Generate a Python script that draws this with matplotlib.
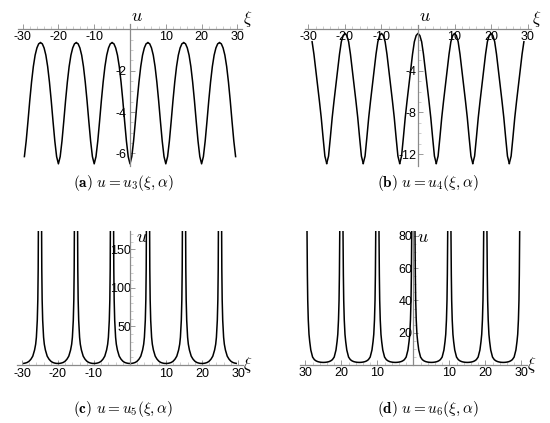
import matplotlib
matplotlib.use("Agg")
import matplotlib.pyplot as plt
import numpy as np

plt.rcParams['mathtext.fontset'] = 'cm'
plt.rcParams['font.family'] = ['Liberation Sans', 'DejaVu Sans']

# ---------------- data ----------------
# (a) u3: half period, offset from a trough (0) to a peak (5)
a_offsets = [0, 0.5, 1.0, 1.5, 2.0, 2.5, 3.0, 3.5, 4.0, 4.5, 5.0]
a_values = [-6.50, -6.15, -5.40, -4.45, -3.45, -2.55, -1.80, -1.25, -0.90, -0.70, -0.65]
a_troughs = [-30, -20, -10, 0, 10, 20, 30]
a_range = [-29.6, 29.6]

# (b) u4: half period, offset from a peak (0) to a trough (5)
b_offsets = [0, 0.5, 1.0, 1.5, 2.0, 2.5, 3.0, 3.5, 4.0, 4.5, 5.0]
b_values = [-0.4, -0.6, -1.2, -2.4, -3.9, -5.4, -6.9, -8.5, -10.4, -12.2, -12.9]
b_peaks = [-30, -20, -10, 0, 10, 20, 30]
b_range = [-29.2, 29.2]

# (c) u5: half branch, offset from a minimum (0) towards a pole (5)
c_offsets = [0, 0.5, 1.0, 1.5, 2.0, 2.5, 3.0, 3.5, 3.8, 4.0, 4.25, 4.4, 4.5, 4.55, 4.6]
c_values = [2.0, 2.1, 2.6, 3.4, 5.0, 7.6, 11.5, 19.5, 27, 36, 58, 85, 125, 175, 230]
c_minima = [-30, -20, -10, 0, 10, 20, 30]
c_range = [-29.8, 29.8]

# (d) u6: half branch, offset from a minimum (0) towards a pole (5)
d_offsets = [0, 0.5, 1.0, 1.5, 2.0, 2.5, 3.0, 3.5, 3.8, 4.0, 4.2, 4.35, 4.45, 4.55, 4.6]
d_values = [1.6, 1.65, 1.8, 2.05, 2.5, 3.3, 4.9, 9.3, 14.5, 19, 28, 40, 56, 83, 100]
d_minima = [-25, -15, -5, 5, 15, 25]
d_range = [-30, 30]

# ticks
a_xticks = [-30, -20, -10, 10, 20, 30]
a_xticklabels = ["-30", "-20", "-10", "10", "20", "30"]
a_yticks = [-2, -4, -6]
a_yticklabels = ["-2", "-4", "-6"]
b_xticks = [-30, -20, -10, 10, 20, 30]
b_xticklabels = ["-30", "-20", "-10", "10", "20", "30"]
b_yticks = [-4, -8, -12]
b_yticklabels = ["-4", "-8", "-12"]
c_xticks = [-30, -20, -10, 10, 20, 30]
c_xticklabels = ["-30", "-20", "-10", "10", "20", "30"]
c_yticks = [50, 100, 150]
c_yticklabels = ["50", "100", "150"]
d_xticks = [-30, -20, -10, 10, 20, 30]
d_xticklabels = ["30", "20", "10", "10", "20", "30"]
d_yticks = [20, 40, 60, 80]
d_yticklabels = ["20", "40", "60", "80"]

captions = [r"$\mathbf{(a)}\ u = u_3(\xi,\alpha)$", r"$\mathbf{(b)}\ u = u_4(\xi,\alpha)$",
            r"$\mathbf{(c)}\ u = u_5(\xi,\alpha)$", r"$\mathbf{(d)}\ u = u_6(\xi,\alpha)$"]


def branches(offsets, values, centers, rng):
    """mirror the read half-branch around each centre; return list of (x, y) pieces"""
    off = np.asarray(offsets, float)
    val = np.asarray(values, float)
    t = np.concatenate([-off[::-1], off[1:]])
    v = np.concatenate([val[::-1], val[1:]])
    pieces = []
    for c in centers:
        x = c + t
        m = (x >= rng[0]) & (x <= rng[1])
        if m.sum() > 1:
            pieces.append((x[m], v[m]))
    return pieces


W, H = 550, 423
fig = plt.figure(figsize=(5.5, 4.23), dpi=100)
AXC = '#8a8a8a'
TSZ = 9


def add_ax(x0, x1, y0, y1):
    return fig.add_axes([x0 / W, 1 - y1 / H, (x1 - x0) / W, (y1 - y0) / H])


def style(ax, xlim, ylim, xt, xtl, yt, ytl, xminor, yminor, xpad, ypad):
    ax.set_xlim(*xlim)
    ax.set_ylim(*ylim)
    ax.patch.set_alpha(0)
    for s in ['top', 'right']:
        ax.spines[s].set_visible(False)
    for s in ['left', 'bottom']:
        ax.spines[s].set_position(('data', 0))
        ax.spines[s].set_color(AXC)
        ax.spines[s].set_linewidth(0.9)
    ax.set_xticks(xt)
    ax.set_xticklabels(xtl)
    ax.set_yticks(yt)
    ax.set_yticklabels(ytl)
    ax.set_xticks(xminor, minor=True)
    ax.set_yticks(yminor, minor=True)
    ax.tick_params(which='major', direction='in', length=3.5, width=0.6, color=AXC, labelsize=TSZ)
    ax.tick_params(which='minor', direction='in', length=2, width=0.5, color='#bbbbbb')
    ax.tick_params(axis='x', pad=xpad)
    ax.tick_params(axis='y', pad=ypad)


xminor = [v for v in range(-30, 31, 2) if v % 10 != 0]

# (a)
ax = add_ax(18.3, 241.7, 24.1, 165.9)
for x, y in branches(a_offsets, a_values, a_troughs, a_range):
    ax.plot(x, y, color='black', lw=1.1)
style(ax, (-31.2, 31.2), (-6.6, 0.25), a_xticks, a_xticklabels, a_yticks, a_yticklabels,
      xminor, [-0.5 * k for k in range(1, 13) if k % 4 != 0], 1.5, 2.5)
ax.text(0.3, 0.2, r'$u$', fontsize=13, ha='left', va='bottom')
ax.text(31.5, 0.02, r'$\xi$', fontsize=12, ha='left', va='bottom')

# (b)
ax = add_ax(304.8, 531.2, 25.1, 165.5)
for x, y in branches(b_offsets, b_values, b_peaks, b_range):
    ax.plot(x, y, color='black', lw=1.1)
style(ax, (-31, 31), (-13.1, 0.4), b_xticks, b_xticklabels, b_yticks, b_yticklabels,
      xminor, [-k for k in range(1, 13) if k % 4 != 0], 1.5, 1.0)
ax.text(0.3, 0.4, r'$u$', fontsize=13, ha='left', va='bottom')
ax.text(31.3, 0.05, r'$\xi$', fontsize=12, ha='left', va='bottom')

# (c)
ax = add_ax(17.3, 242.7, 230.7, 365)
for x, y in branches(c_offsets, c_values, c_minima, c_range):
    ax.plot(x, y, color='black', lw=1.1)
style(ax, (-31.3, 31.3), (0, 174.4), c_xticks, c_xticklabels, c_yticks, c_yticklabels,
      xminor, [v for v in range(10, 171, 10) if v % 50 != 0], 2.3, -1.0)
ax.text(1.8, 176, r'$u$', fontsize=13, ha='left', va='top')
ax.text(31.5, 0, r'$\xi$', fontsize=12, ha='left', va='center')

# (d)
ax = add_ax(300, 526.7, 230.7, 365)
for x, y in branches(d_offsets, d_values, d_minima, d_range):
    ax.plot(x, y, color='black', lw=1.1)
style(ax, (-31.5, 31.5), (0, 83.2), d_xticks, d_xticklabels, d_yticks, d_yticklabels,
      xminor, [v for v in range(5, 81, 5) if v % 20 != 0], 1.2, 0.8)
ax.text(0.9, 84, r'$u$', fontsize=13, ha='left', va='top')
ax.text(31.7, 0, r'$\xi$', fontsize=12, ha='left', va='center')

# captions
for (cx, cy), cap in zip([(123, 183), (428, 183), (123, 409), (428, 409)], captions):
    fig.text(cx / W, 1 - cy / H, cap, fontsize=11, ha='center', va='center')

fig.savefig('out.png', dpi=100)
